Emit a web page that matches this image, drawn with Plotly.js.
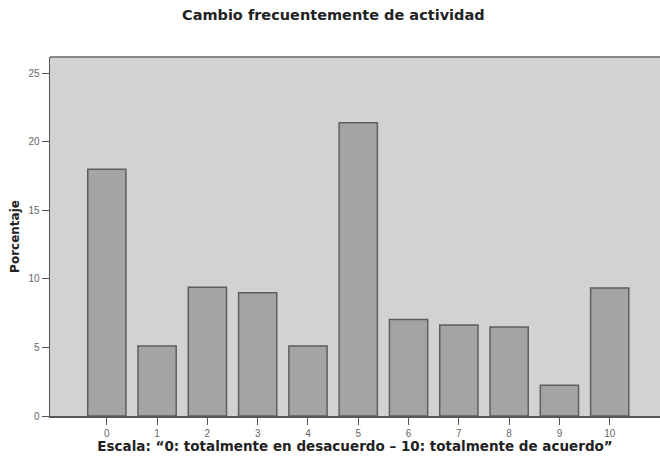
<!DOCTYPE html>
<html>
<head>
<meta charset="utf-8">
<script src="https://cdn.plot.ly/plotly-3.0.1.min.js"></script>
<style>html,body{margin:0;padding:0;background:#fff;}#chart{width:660px;height:461px;}</style>
</head>
<body>
<div id="chart"></div>
<script>
const categories = ["0","1","2","3","4","5","6","7","8","9","10"];
const percentages = [18.0, 5.1, 9.4, 9.0, 5.1, 21.4, 7.05, 6.65, 6.5, 2.25, 9.35];
const yTicks = [0, 5, 10, 15, 20, 25];
const chartTitle = "Cambio frecuentemente de actividad";
const xTitle = "Escala: \u201c0: totalmente en desacuerdo \u2013 10: totalmente de acuerdo\u201d";
const yTitle = "Porcentaje";

const xPos = categories.map((c, i) => i);
const fam = "DejaVu Sans, sans-serif";

Plotly.newPlot("chart", [{
  type: "bar",
  x: xPos,
  y: percentages,
  marker: {color: "#a4a4a4", line: {color: "#5e5e5e", width: 1.5}},
  hoverinfo: "skip"
}], {
  width: 660, height: 461,
  margin: {l: 50, r: 0, t: 57, b: 45},
  paper_bgcolor: "#ffffff",
  plot_bgcolor: "#d2d2d2",
  bargap: 0.24,
  font: {family: "Liberation Sans, Arial, sans-serif", color: "#333"},
  title: {text: "<b>" + chartTitle + "</b>", x: 0.505, xanchor: "center", y: 0.967, yanchor: "middle",
          font: {family: fam, size: 14.5, color: "#222"}},
  xaxis: {
    range: [-1.13, 11.0],
    tickvals: xPos, ticktext: categories,
    ticks: "outside", ticklen: 7, tickcolor: "#555", tickwidth: 1,
    tickfont: {size: 10, color: "#666"},
    showline: true, linecolor: "#555", linewidth: 1.5,
    showgrid: false, zeroline: false, mirror: false,
    title: {text: "<b>" + xTitle + "</b>", font: {family: fam, size: 13.5, color: "#222"}, standoff: 4}
  },
  yaxis: {
    range: [0, 26.2],
    tickvals: yTicks,
    ticks: "outside", ticklen: 7, tickcolor: "#555", tickwidth: 1,
    tickfont: {size: 10, color: "#666"},
    showline: true, linecolor: "#555", linewidth: 1.5,
    showgrid: false, zeroline: false,
    title: {text: "<b>" + yTitle + "</b>", font: {family: fam, size: 12, color: "#222"}, standoff: 6}
  },
  shapes: [{type: "line", xref: "paper", yref: "paper", x0: 0, x1: 1, y0: 1, y1: 1,
            line: {color: "#888", width: 2}}],
  showlegend: false
}, {displayModeBar: false, staticPlot: true});
</script>
</body>
</html>
